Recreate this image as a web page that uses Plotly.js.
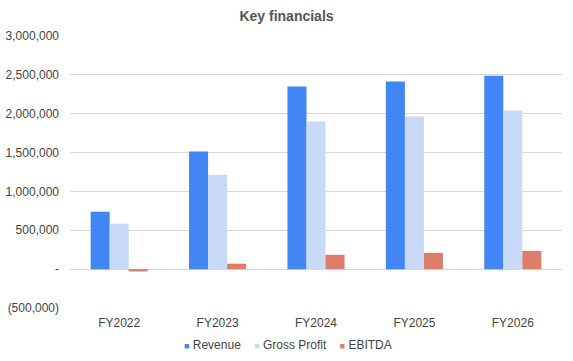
<!DOCTYPE html>
<html>
<head>
<meta charset="utf-8">
<script src="https://cdn.plot.ly/plotly-3.0.1.min.js"></script>
<style>html,body{margin:0;padding:0;background:#fff;}#chart{width:573px;height:361px;}</style>
</head>
<body>
<div id="chart"></div>
<script>
const categories = ["FY2022", "FY2023", "FY2024", "FY2025", "FY2026"];
const revenue = [740000, 1515000, 2350000, 2415000, 2490000];
const grossProfit = [585000, 1215000, 1900000, 1965000, 2040000];
const ebitda = [-30000, 70000, 185000, 210000, 235000];
const seriesNames = ["Revenue", "Gross Profit", "EBITDA"];
const seriesColors = ["#4285F4", "#C9DAF8", "#DD7E6B"];
const yTickVals = [-500000, 0, 500000, 1000000, 1500000, 2000000, 2500000, 3000000];
const yTickText = ["(500,000)", "-", "500,000", "1,000,000", "1,500,000", "2,000,000", "2,500,000", "3,000,000"];

const font = "'Liberation Sans', Arial, sans-serif";
const seriesValues = [revenue, grossProfit, ebitda];
const traces = seriesNames.map((n, i) => ({
  type: "bar", name: n, x: categories, y: seriesValues[i], marker: {color: seriesColors[i]}
}));

const sp = "\u00A0";
const legendText = seriesNames.map((n, i) =>
  "<span style='color:" + seriesColors[i] + ";font-size:9px'>\u25A0</span>" + sp + n
).join(sp.repeat(4));

const layout = {
  width: 573, height: 361,
  margin: {l: 70, r: 11, t: 36, b: 53},
  paper_bgcolor: "#fff", plot_bgcolor: "#fff",
  font: {family: font, size: 12, color: "#444"},
  title: {text: "<b>Key financials</b>", x: 0.5, xanchor: "center", y: 0.955, yanchor: "middle",
          font: {family: font, size: 14, color: "#555"}},
  barmode: "group", bargap: 0.42, bargroupgap: 0,
  xaxis: {showgrid: false, zeroline: false, showline: false, ticks: "", automargin: false,
          ticklabelstandoff: 6,
          tickfont: {family: font, size: 12, color: "#444"}},
  yaxis: {range: [-500000, 3000000], tickvals: yTickVals, ticktext: yTickText, automargin: false,
          showgrid: true, gridcolor: "#d9d9d9", gridwidth: 1, zeroline: false, showline: false,
          ticks: "", ticklabelstandoff: 10,
          tickfont: {family: font, size: 12, color: "#444"}},
  showlegend: false,
  annotations: [{
    xref: "paper", yref: "paper", x: 0.444, y: -0.137, xanchor: "center", yanchor: "middle",
    showarrow: false, text: legendText, font: {family: font, size: 12, color: "#444"}
  }]
};
Plotly.newPlot("chart", traces, layout, {displayModeBar: false, staticPlot: true});
</script>
</body>
</html>
